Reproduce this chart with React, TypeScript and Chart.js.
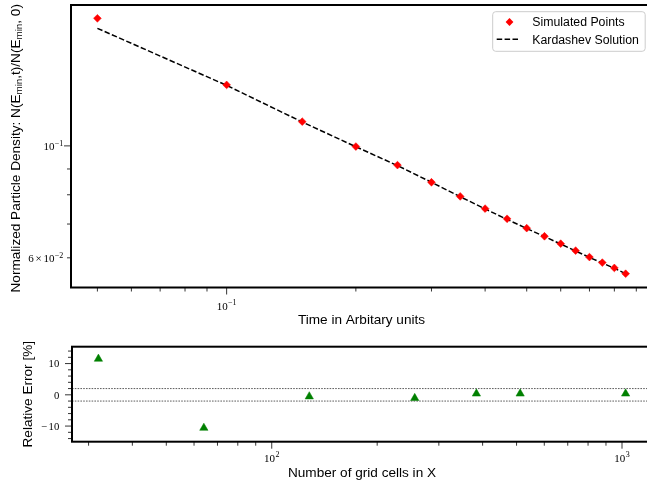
import React, { useEffect, useRef } from "react";
import { Chart, registerables } from "chart.js";

Chart.register(...registerables);

// ---------- data ----------
const times = [0.05, 0.1, 0.15, 0.2, 0.25, 0.3, 0.35, 0.4, 0.45, 0.5, 0.55, 0.6, 0.65, 0.7, 0.75, 0.8, 0.85];
const simulatedDensity = [0.179, 0.1321, 0.1117, 0.0997, 0.0916, 0.0847, 0.0794, 0.0751, 0.0717, 0.0687, 0.0662, 0.064, 0.062, 0.0602, 0.0587, 0.0573, 0.0558];
const kardashevDensity = [0.171, 0.1318, 0.1115, 0.0996, 0.0914, 0.0847, 0.0793, 0.075, 0.0715, 0.0686, 0.0661, 0.0639, 0.0619, 0.0601, 0.0586, 0.0572, 0.0558];

const gridCells = [32, 64, 128, 256, 384, 512, 1024];
const relativeError = [11.5, -10.6, -0.54, -1.06, 0.37, 0.37, 0.37];
const errorBand = [2, -2];

const topXLimits = [0.0434, 0.979];
const topYLimits = [0.0524, 0.1902];
const botXLimits = [26.9, 1218];
const botYLimits = [-15, 15.4];

const topXMajorTicks = [0.1];
const topXMinorTicks = [0.05, 0.06, 0.07, 0.08, 0.09, 0.2, 0.3, 0.4, 0.5, 0.6, 0.7, 0.8, 0.9];
const topYMajorTicks = [0.1];
const topYMinorTicks = [0.06, 0.07, 0.08, 0.09];
const topXTickLabels = [{ v: 0.1, pre: "", base: "10", sup: "\u22121" }];
const topYTickLabels = [
  { v: 0.1, pre: "", base: "10", sup: "\u22121" },
  { v: 0.06, pre: "6", base: "10", sup: "\u22122" },
];

const botXMajorTicks = [100, 1000];
const botXMinorTicks = [30, 40, 50, 60, 70, 80, 90, 200, 300, 400, 500, 600, 700, 800, 900];
const botYMajorTicks = [-10, 0, 10];
const botYMinorTicks = [-14, -12, -8, -6, -4, -2, 2, 4, 6, 8, 12, 14];
const botXTickLabels = [
  { v: 100, base: "10", sup: "2" },
  { v: 1000, base: "10", sup: "3" },
];
const botYTickLabels = [
  { v: 10, text: "10" },
  { v: 0, text: "0" },
  { v: -10, text: "\u221210" },
];

const seriesLabels = ["Simulated Points", "Kardashev Solution"];
const topXTitle = "Time in Arbitary units";
const botXTitle = "Number of grid cells in X";
const botYTitle = "Relative Error [%]";

// ---------- drawing helpers ----------
const SANS = '"Liberation Sans", Arial, Helvetica, sans-serif';
const SERIF = '"Liberation Serif", "Times New Roman", serif';

type Seg = { t: string; size: number; dy: number; font: string; gap?: number };

function richWidth(ctx: CanvasRenderingContext2D, segs: Seg[]) {
  let w = 0;
  for (const s of segs) {
    ctx.font = `${s.size}px ${s.font}`;
    w += ctx.measureText(s.t).width + (s.gap || 0);
  }
  return w;
}

function drawRich(ctx: CanvasRenderingContext2D, segs: Seg[], x: number, y: number, align: "left" | "center" | "right") {
  const w = richWidth(ctx, segs);
  let cx = align === "left" ? x : align === "center" ? x - w / 2 : x - w;
  ctx.textAlign = "left";
  ctx.textBaseline = "alphabetic";
  for (const s of segs) {
    ctx.font = `${s.size}px ${s.font}`;
    ctx.fillText(s.t, cx, y + s.dy);
    cx += ctx.measureText(s.t).width + (s.gap || 0);
  }
}

function mathSegs(pre: string, base: string, sup: string): Seg[] {
  const segs: Seg[] = [];
  if (pre) {
    segs.push({ t: pre, size: 11, dy: 0, font: SERIF, gap: 1.8 });
    segs.push({ t: "\u00d7", size: 11, dy: 0, font: SERIF, gap: 1.8 });
  }
  segs.push({ t: base, size: 11, dy: 0, font: SERIF, gap: 0.3 });
  segs.push({ t: sup, size: 8, dy: -4.6, font: SERIF });
  return segs;
}

function tick(ctx: CanvasRenderingContext2D, x1: number, y1: number, x2: number, y2: number) {
  ctx.beginPath();
  ctx.moveTo(x1, y1);
  ctx.lineTo(x2, y2);
  ctx.stroke();
}

function drawRotated(ctx: CanvasRenderingContext2D, segs: Seg[], bx: number, cy: number) {
  ctx.save();
  ctx.translate(bx, cy);
  ctx.rotate(-Math.PI / 2);
  drawRich(ctx, segs, 0, 0, "center");
  ctx.restore();
}

const MAJOR = 7;
const MINOR = 4;

const topPlugin = {
  id: "topDecor",
  afterDraw(chart: any) {
    const { ctx, chartArea: a, scales } = chart;
    const x = scales.x;
    const y = scales.y;
    ctx.save();
    ctx.strokeStyle = "#000";
    ctx.lineWidth = 0.8;
    ctx.setLineDash([]);
    for (const v of topXMinorTicks) { const p = x.getPixelForValue(v); tick(ctx, p, a.bottom, p, a.bottom + MINOR); }
    for (const v of topXMajorTicks) { const p = x.getPixelForValue(v); tick(ctx, p, a.bottom, p, a.bottom + MAJOR); }
    for (const v of topYMinorTicks) { const p = y.getPixelForValue(v); tick(ctx, a.left, p, a.left - MINOR, p); }
    for (const v of topYMajorTicks) { const p = y.getPixelForValue(v); tick(ctx, a.left, p, a.left - MAJOR, p); }

    // frame
    ctx.lineWidth = 2;
    ctx.strokeStyle = "#000";
    ctx.strokeRect(a.left, a.top, a.right - a.left, a.bottom - a.top);

    ctx.fillStyle = "#000";
    for (const l of topXTickLabels) {
      drawRich(ctx, mathSegs(l.pre, l.base, l.sup), x.getPixelForValue(l.v), a.bottom + 22.5, "center");
    }
    for (const l of topYTickLabels) {
      drawRich(ctx, mathSegs(l.pre, l.base, l.sup), a.left - 7.7, y.getPixelForValue(l.v) + 4.5, "right");
    }

    // axis titles
    const cxMid = (a.left + a.right) / 2;
    drawRich(ctx, [{ t: topXTitle, size: 13.6, dy: 0, font: SANS }], cxMid, 324, "center");
    const sub = (t: string): Seg => ({ t, size: 9.8, dy: 2.6, font: SANS });
    const main = (t: string): Seg => ({ t, size: 13.6, dy: 0, font: SANS });
    drawRotated(
      ctx,
      [main("Normalized Particle Density: N(E"), sub("min"), main(",t)/N(E"), sub("min"), main(", 0)")],
      19.5,
      (a.top + a.bottom) / 2 + 2
    );

    // legend
    const lw = 152.5;
    const lh = 39.6;
    const lx = a.right - 6.8 - lw;
    const ly = a.top + 6.7;
    ctx.beginPath();
    ctx.roundRect(lx, ly, lw, lh, 3);
    ctx.fillStyle = "rgba(255,255,255,0.8)";
    ctx.fill();
    ctx.lineWidth = 1;
    ctx.strokeStyle = "#cccccc";
    ctx.stroke();

    const ds0 = chart.data.datasets[0];
    const ds1 = chart.data.datasets[1];
    // diamond marker
    const mx = lx + 16.8;
    const my = ly + 10.3;
    const r = ds0.pointRadius;
    ctx.beginPath();
    ctx.moveTo(mx - r, my);
    ctx.lineTo(mx, my - r);
    ctx.lineTo(mx + r, my);
    ctx.lineTo(mx, my + r);
    ctx.closePath();
    ctx.fillStyle = ds0.backgroundColor;
    ctx.fill();
    // dashed line
    ctx.beginPath();
    ctx.setLineDash(ds1.borderDash);
    ctx.lineWidth = ds1.borderWidth;
    ctx.strokeStyle = ds1.borderColor;
    ctx.moveTo(lx + 4, ly + 27.6);
    ctx.lineTo(lx + 27.6, ly + 27.6);
    ctx.stroke();
    ctx.setLineDash([]);

    ctx.fillStyle = "#000";
    drawRich(ctx, [{ t: seriesLabels[0], size: 12.3, dy: 0, font: SANS }], lx + 39.6, ly + 14.3, "left");
    drawRich(ctx, [{ t: seriesLabels[1], size: 12.3, dy: 0, font: SANS }], lx + 39.6, ly + 32.3, "left");
    ctx.restore();
  },
};

const botBandPlugin = {
  id: "botBand",
  beforeDatasetsDraw(chart: any) {
    const { ctx, chartArea: a, scales } = chart;
    ctx.save();
    ctx.strokeStyle = "#333";
    ctx.lineWidth = 0.8;
    ctx.setLineDash([1.6, 1.2]);
    for (const v of errorBand) {
      const p = scales.y.getPixelForValue(v);
      tick(ctx, a.left, p, a.right, p);
    }
    ctx.restore();
  },
};

const botPlugin = {
  id: "botDecor",
  afterDraw(chart: any) {
    const { ctx, chartArea: a, scales } = chart;
    const x = scales.x;
    const y = scales.y;
    ctx.save();
    ctx.strokeStyle = "#000";
    ctx.lineWidth = 0.8;
    for (const v of botXMinorTicks) { const p = x.getPixelForValue(v); tick(ctx, p, a.bottom, p, a.bottom + MINOR); }
    for (const v of botXMajorTicks) { const p = x.getPixelForValue(v); tick(ctx, p, a.bottom, p, a.bottom + MAJOR); }
    for (const v of botYMinorTicks) { const p = y.getPixelForValue(v); tick(ctx, a.left, p, a.left - MINOR, p); }
    for (const v of botYMajorTicks) { const p = y.getPixelForValue(v); tick(ctx, a.left, p, a.left - MAJOR, p); }

    ctx.lineWidth = 2;
    ctx.strokeRect(a.left, a.top, a.right - a.left, a.bottom - a.top);

    ctx.fillStyle = "#000";
    for (const l of botXTickLabels) {
      drawRich(ctx, mathSegs("", l.base, l.sup), x.getPixelForValue(l.v), a.bottom + 20.3, "center");
    }
    for (const l of botYTickLabels) {
      const segs: Seg[] = l.text.startsWith("\u2212")
        ? [
            { t: "\u2212", size: 10.7, dy: 0, font: SERIF, gap: 1.5 },
            { t: l.text.slice(1), size: 10.7, dy: 0, font: SERIF },
          ]
        : [{ t: l.text, size: 10.7, dy: 0, font: SERIF }];
      drawRich(ctx, segs, a.left - 12.7, y.getPixelForValue(l.v) + 3.7, "right");
    }

    const cxMid = (a.left + a.right) / 2;
    drawRich(ctx, [{ t: botXTitle, size: 13.6, dy: 0, font: SANS }], cxMid, a.bottom + 35.6, "center");
    drawRotated(ctx, [{ t: botYTitle, size: 13.6, dy: 0, font: SANS }], 31.5, (a.top + a.bottom) / 2);
    ctx.restore();
  },
};

const W = 665;
const TOP_H = 335;
const BOT_H = 150;

export default function App() {
  const topRef = useRef<HTMLCanvasElement | null>(null);
  const botRef = useRef<HTMLCanvasElement | null>(null);

  useEffect(() => {
    if (!topRef.current || !botRef.current) return;
    const top = new Chart(topRef.current, {
      type: "scatter",
      data: {
        datasets: [
          {
            label: seriesLabels[0],
            data: times.map((t, i) => ({ x: t, y: simulatedDensity[i] })),
            pointStyle: "rectRot",
            pointRadius: 3.9,
            backgroundColor: "#ff0000",
            borderColor: "#ff0000",
            borderWidth: 0.5,
            showLine: false,
          },
          {
            label: seriesLabels[1],
            data: times.map((t, i) => ({ x: t, y: kardashevDensity[i] })),
            showLine: true,
            pointRadius: 0,
            borderColor: "#000000",
            backgroundColor: "#000000",
            borderWidth: 1.5,
            borderDash: [5.5, 2.4],
            fill: false,
            tension: 0,
          },
        ],
      } as any,
      options: {
        animation: false,
        responsive: false,
        events: [],
        layout: { padding: { left: 71, right: W - 652, top: 5, bottom: TOP_H - 287.5 } },
        plugins: { legend: { display: false }, tooltip: { enabled: false } },
        scales: {
          x: { type: "logarithmic", min: topXLimits[0], max: topXLimits[1], display: false, bounds: "data" },
          y: { type: "logarithmic", min: topYLimits[0], max: topYLimits[1], display: false, bounds: "data" },
        },
      } as any,
      plugins: [topPlugin],
    });

    const bot = new Chart(botRef.current, {
      type: "scatter",
      data: {
        datasets: [
          {
            label: "Relative Error",
            data: gridCells.map((n, i) => ({ x: n, y: relativeError[i] })),
            pointStyle: "triangle",
            pointRadius: 4.8,
            backgroundColor: "#008000",
            borderColor: "#008000",
            borderWidth: 0.5,
          },
        ],
      } as any,
      options: {
        animation: false,
        responsive: false,
        events: [],
        layout: { padding: { left: 72, right: W - 652, top: 346.7 - TOP_H, bottom: TOP_H + BOT_H - 441.7 } },
        plugins: { legend: { display: false }, tooltip: { enabled: false } },
        scales: {
          x: { type: "logarithmic", min: botXLimits[0], max: botXLimits[1], display: false, bounds: "data" },
          y: { type: "linear", min: botYLimits[0], max: botYLimits[1], display: false, bounds: "data" },
        },
      } as any,
      plugins: [botBandPlugin, botPlugin],
    });

    return () => {
      top.destroy();
      bot.destroy();
    };
  }, []);

  return (
    <div
      style={{
        position: "fixed",
        left: 0,
        top: 0,
        width: 647,
        height: 485,
        overflow: "hidden",
        background: "#ffffff",
      }}
    >
      <canvas ref={topRef} width={W} height={TOP_H} style={{ position: "absolute", left: 0, top: 0, display: "block" }} />
      <canvas ref={botRef} width={W} height={BOT_H} style={{ position: "absolute", left: 0, top: TOP_H, display: "block" }} />
    </div>
  );
}
